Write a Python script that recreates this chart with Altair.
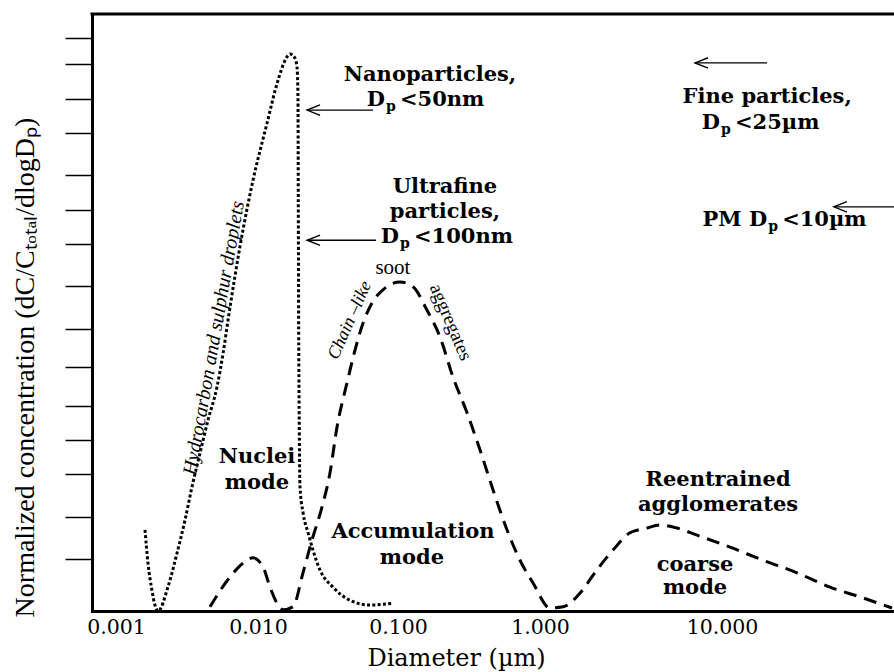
import altair as alt
import pandas as pd

# ---- size distribution curves (diameter in µm, normalized concentration 0-100) ----
# nuclei mode: hydrocarbon and sulphur droplets (dotted)
nuc_d = [0.0016, 0.00168, 0.00179, 0.00188, 0.00198, 0.00232, 0.00269, 0.00306, 0.00343,
         0.00391, 0.00445, 0.00514, 0.00568, 0.00615, 0.00746, 0.00923, 0.0116, 0.0137,
         0.0161, 0.0169, 0.0184, 0.0190, 0.0193, 0.0194, 0.01953, 0.01972, 0.01995, 0.0210,
         0.0228, 0.0247, 0.0277, 0.0343, 0.0454, 0.0631, 0.0921]
nuc_c = [13.6, 8.0, 3.5, 1.0, 0.0, 4.0, 9.7, 15.2, 20.8, 26.5, 32.0, 37.5, 43.2, 48.7, 61.0,
         72.2, 81.7, 88.4, 92.8, 93.3, 92.6, 91.1, 86.1, 68.8, 47.1, 30.3, 20.8, 16.4, 13.1,
         10.2, 6.9, 4.0, 1.8, 1.0, 1.3]

# nuclei hump, accumulation mode and coarse mode (dashed)
acc_d = [0.00459, 0.00635, 0.00784, 0.00922, 0.01086, 0.01218, 0.01367, 0.01509, 0.01778,
         0.02096, 0.0243, 0.02864, 0.03266, 0.03667, 0.04321, 0.04931, 0.05623, 0.06518,
         0.07816, 0.1033, 0.1275, 0.16, 0.1976, 0.2439, 0.3062, 0.3779, 0.4667, 0.5857,
         0.7228, 0.8934, 1.135, 1.338, 1.659, 2.056, 2.518, 3.123, 3.872, 4.564, 5.656,
         7.29, 11.07, 16.8, 25.8, 39.2, 59.5, 85.9]
acc_c = [0.7, 5.7, 8.0, 8.9, 7.4, 4.0, 1.3, 0.2, 0.7, 6.4, 11.9, 17.4, 23.1, 30.8, 38.2,
         43.7, 48.2, 51.6, 53.8, 55.1, 54.3, 50.4, 45.9, 39.2, 33.2, 27.0, 20.3, 13.6, 8.5,
         4.7, 0.5, 0.7, 3.0, 6.9, 10.2, 13.1, 13.9, 14.4, 13.9, 12.7, 10.7, 8.5, 6.4, 4.0,
         2.2, 0.5]

# ---- axes ----
x_ticks = [0.001, 0.01, 0.1, 1, 10]
y_ticks = [96.0, 91.6, 85.8, 80.1, 73.0, 67.2, 61.5, 54.4, 47.2, 40.9, 34.3, 28.6, 22.9,
           15.7, 8.7]

# ---- bold annotations ----
lab_text = ["Nanoparticles,", "Ultrafine", "particles,", "Fine particles,", "Nuclei", "mode",
            "Accumulation", "mode", "Reentrained", "agglomerates", "coarse", "mode"]
lab_d = [0.168, 0.214, 0.214, 17.7, 0.00984, 0.00984, 0.1275, 0.1254, 9.51, 9.51, 7.11, 7.11]
lab_c = [89.8, 71.0, 66.8, 86.1, 25.8, 21.4, 13.2, 8.9, 21.9, 17.8, 7.7, 3.9]

# size-class labels "D_p <...": head, subscript, tail
size_head = ["D", "D", "D", "PM D"]
size_sub = ["p", "p", "p", "p"]
size_tail = ["<50nm", "<100nm", "<25µm", "<10µm"]
size_d = [0.0807, 0.1016, 9.75, 17.7]
size_c = [85.6, 62.6, 81.7, 65.5]

# rotated descriptive labels
ital_text = ["Hydrocarbon  and  sulphur droplets", "Chain –like"]
ital_d = [0.0049, 0.0454]
ital_c = [45.7, 48.7]
ital_a = [280, 294]
plain_text = ["aggregates", "soot"]
plain_d = [0.236, 0.092]
plain_c = [48.4, 57.5]
plain_a = [67, 0]

# arrows pointing at the size-class limits
arr_tip = [0.0224, 0.0224, 7.11, 41.2]
arr_tail = [0.0663, 0.0697, 17.7, 88.1]
arr_c = [83.9, 62.1, 91.8, 67.7]

W, H = 802, 597
xs = alt.Scale(type="log", domain=[0.000678, 0.001, 0.01, 0.1, 1, 10, 88.1],
               range=[0, 24, 166, 306, 448, 630, 802], nice=False)
ys = alt.Scale(domain=[0, 100], nice=False, zero=False)

SERIF = "Liberation Serif"
WIDE = "DejaVu Serif"

x_axis = alt.Axis(values=x_ticks, format=".3f", ticks=False, grid=False, labelFlush=False,
                  labelOverlap=False, labelPadding=6, labelFont=WIDE, labelFontSize=20.5,
                  labelColor="black", domainColor="black", domainWidth=3, domainCap="square",
                  title="Diameter (µm)", titleFont=WIDE, titleFontSize=24,
                  titleFontWeight="normal", titleColor="black", titleX=364, titleY=54,
                  titleBaseline="alphabetic", titleAlign="center")
y_axis = alt.Axis(values=y_ticks, labels=False, grid=False, tickSize=27, tickWidth=1.5,
                  tickColor="black", domainColor="black", domainWidth=3, domainCap="square",
                  title="Normalized concentration (dC/Cₜₒₜₐₗ/dlogDₚ)", titleFont=SERIF,
                  titleFontSize=28, titleFontWeight="normal", titleColor="black",
                  titleAngle=270, titleX=-59, titleY=353, titleBaseline="alphabetic",
                  titleAlign="center")

# every layer carries the same axis definitions so they merge into one pair of axes
X = lambda f: alt.X(f, type="quantitative", scale=xs, axis=x_axis)
Y = lambda f: alt.Y(f, type="quantitative", scale=ys, axis=y_axis)

nuc = pd.DataFrame({"d": nuc_d, "c": nuc_c, "i": list(range(len(nuc_d)))})
acc = pd.DataFrame({"d": acc_d, "c": acc_c, "i": list(range(len(acc_d)))})

dotted = alt.Chart(nuc).mark_line(interpolate="monotone", strokeDash=[3, 2.3], strokeWidth=3,
                                  strokeCap="butt", color="black").encode(
    x=X("d"), y=Y("c"), order="i:Q")
dashed = alt.Chart(acc).mark_line(interpolate="monotone", strokeDash=[13, 8], strokeWidth=3,
                                  strokeCap="butt", color="black").encode(
    x=X("d"), y=Y("c"), order="i:Q")

frame_top = alt.Chart(pd.DataFrame({"k": [0]})).mark_rule(
    color="black", strokeWidth=3, strokeCap="square").encode(
    x=alt.value(0), x2=alt.value(W), y=alt.value(0))

labels = alt.Chart(pd.DataFrame({"t": lab_text, "d": lab_d, "c": lab_c})).mark_text(
    font=WIDE, fontSize=21, fontWeight="bold", color="black", align="center",
    baseline="middle").encode(x=X("d"), y=Y("c"), text="t:N")

sz = pd.DataFrame({"h": size_head, "s": size_sub, "t": size_tail, "d": size_d, "c": size_c})
size_h = alt.Chart(sz).mark_text(font=WIDE, fontSize=21, fontWeight="bold", color="black",
                                 align="right", baseline="middle").encode(
    x=X("d"), y=Y("c"), text="h:N")
size_s = alt.Chart(sz).mark_text(font=WIDE, fontSize=14, fontWeight="bold", color="black",
                                 align="left", baseline="middle", dx=1, dy=7).encode(
    x=X("d"), y=Y("c"), text="s:N")
size_t = alt.Chart(sz).mark_text(font=WIDE, fontSize=21, fontWeight="bold", color="black",
                                 align="left", baseline="middle", dx=15).encode(
    x=X("d"), y=Y("c"), text="t:N")

ital = alt.Chart(pd.DataFrame({"t": ital_text, "d": ital_d, "c": ital_c, "a": ital_a,
                               "s": [20, 18]})).mark_text(
    font=SERIF, fontStyle="italic", color="black", align="center", baseline="middle").encode(
    x=X("d"), y=Y("c"), text="t:N", angle=alt.Angle("a:Q", scale=None),
    size=alt.Size("s:Q", scale=None))
plain = alt.Chart(pd.DataFrame({"t": plain_text, "d": plain_d, "c": plain_c, "a": plain_a,
                                "s": [19, 21]})).mark_text(
    font=SERIF, color="black", align="center", baseline="middle").encode(
    x=X("d"), y=Y("c"), text="t:N", angle=alt.Angle("a:Q", scale=None),
    size=alt.Size("s:Q", scale=None))

arr = pd.DataFrame({"tip": arr_tip, "tail": arr_tail, "c": arr_c})
shafts = alt.Chart(arr).mark_rule(color="black", strokeWidth=1.3).encode(
    x=X("tip"), x2="tail:Q", y=Y("c"))
heads = alt.Chart(arr).mark_point(shape="M2,-0.8 L0,0 L2,0.8", size=169, filled=False,
                                  stroke="black", strokeWidth=1.4, opacity=1).encode(
    x=X("tip"), y=Y("c"))

chart = alt.layer(dotted, dashed, frame_top, labels, size_h, size_s, size_t, ital, plain,
                  shafts, heads).properties(
    width=W, height=H,
    autosize=alt.AutoSizeParams(type="none"),
    padding={"left": 92, "top": 14, "right": 0, "bottom": 61},
    background="white",
).configure_view(stroke=None)

chart.save("out.html", embed_options={"renderer": "svg", "actions": False})
